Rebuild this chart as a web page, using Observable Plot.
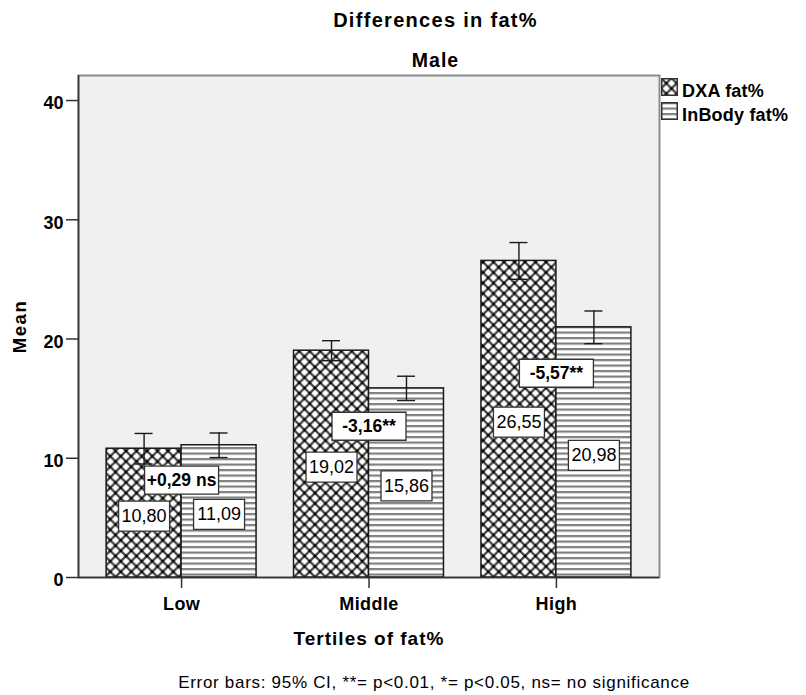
<!DOCTYPE html>
<html>
<head>
<meta charset="utf-8">
<script src="https://cdn.jsdelivr.net/npm/d3@7"></script>
<script src="https://cdn.jsdelivr.net/npm/@observablehq/plot@0.6"></script>
<style>
  html, body { margin: 0; padding: 0; background: #fff; }
  #page { position: relative; width: 806px; height: 695px; overflow: hidden;
          font-family: "Liberation Sans", Arial, sans-serif; color: #000; }
  .hdr { position: absolute; left: 65px; width: 741px; text-align: center; line-height: 1;
         font-weight: bold; white-space: nowrap; }
  #title { top: 10.2px; font-size: 20px; letter-spacing: 1.3px; }
  #subtitle { top: 50.6px; font-size: 19.5px; letter-spacing: 1px; }
  #chart { position: absolute; left: 0; top: 73px; }
  #caption { position: absolute; left: 62px; width: 744px; top: 673.7px; text-align: center;
             font-size: 17px; line-height: 1; letter-spacing: 0.7px; white-space: nowrap; }
  .legend-swatch { position: absolute; left: 661px; width: 17px; height: 18px; }
  .legend-text { position: absolute; left: 682px; font-size: 18px; font-weight: bold; line-height: 1;
                 letter-spacing: 0.2px; white-space: nowrap; }
  #chart g[aria-label="x-axis tick label"] text { letter-spacing: 0.4px; }
  #chart g[aria-label="x-axis label"] text { font-size: 19px; letter-spacing: 1px; }
  #chart g[aria-label="y-axis label"] text { font-size: 18.5px; letter-spacing: 1.6px; }
</style>
</head>
<body>
<div id="page">
  <svg width="0" height="0" style="position:absolute">
    <defs>
      <!-- cross-hatched lattice for DXA -->
      <pattern id="pat-dxa" patternUnits="userSpaceOnUse" width="10.5" height="10.5">
        <rect width="10.5" height="10.5" fill="#fff"/>
        <path d="M0,0L10.5,10.5M10.5,0L0,10.5" stroke="#444" stroke-width="2.3"/>
        <rect x="4" y="4" width="2.5" height="2.5" fill="#000"/>
        <rect x="-1.25" y="-1.25" width="2.5" height="2.5" fill="#000"/>
        <rect x="9.25" y="-1.25" width="2.5" height="2.5" fill="#000"/>
        <rect x="-1.25" y="9.25" width="2.5" height="2.5" fill="#000"/>
        <rect x="9.25" y="9.25" width="2.5" height="2.5" fill="#000"/>
      </pattern>
      <!-- horizontal stripes for InBody -->
      <pattern id="pat-inbody" patternUnits="userSpaceOnUse" width="10" height="5.5">
        <rect width="10" height="5.5" fill="#fff"/>
        <rect y="0" width="10" height="2.2" fill="#808080"/>
      </pattern>
    </defs>
  </svg>
  <div id="title" class="hdr">Differences in fat%</div>
  <div id="subtitle" class="hdr">Male</div>
  <div id="chart"></div>
  <div id="legend"></div>
  <div id="caption"></div>
</div>
<script>
// Mean fat% per tertile, with 95% confidence limits
const tertiles = ["Low", "Middle", "High"];
const seriesNames = ["DXA fat%", "InBody fat%"];
const dxaMean = [10.80, 19.02, 26.55];
const inbodyMean = [11.09, 15.86, 20.98];
const dxaCiLow = [9.52, 18.18, 25.01];
const dxaCiHigh = [12.08, 19.86, 28.09];
const inbodyCiLow = [10.06, 14.84, 19.61];
const inbodyCiHigh = [12.12, 16.88, 22.35];
const significance = ["ns", "**", "**"];
const yTicks = [0, 10, 20, 30, 40];
const captionText = "Error bars: 95% CI, **= p<0.01, *= p<0.05, ns= no significance";

const locale = d3.formatLocale({decimal: ",", thousands: ".", grouping: [3], currency: ["", ""], minus: "-"});
const fmtValue = locale.format(".2f");
const fmtDiff = locale.format("+.2f");

const BAR_W = 0.4;   // bar width, in category units
const CAP = 0.048;   // half-width of the error-bar caps

const rows = tertiles.flatMap((t, i) => [
  {tertile: t, i, series: seriesNames[0], side: -1, mean: dxaMean[i], lo: dxaCiLow[i], hi: dxaCiHigh[i]},
  {tertile: t, i, series: seriesNames[1], side: 1, mean: inbodyMean[i], lo: inbodyCiLow[i], hi: inbodyCiHigh[i]}
]);
const xc = d => d.i + d.side * BAR_W / 2;

// InBody minus DXA, placed between the lower bar top and the taller bar's value box
const diffs = tertiles.map((t, i) => {
  const diff = Math.round((inbodyMean[i] - dxaMean[i]) * 100) / 100;
  const lower = Math.min(dxaMean[i], inbodyMean[i]);
  const upper = Math.max(dxaMean[i], inbodyMean[i]);
  return {
    i,
    y: (lower + upper / 2) / 2,
    label: fmtDiff(diff) + (significance[i] === "ns" ? " ns" : significance[i])
  };
});

// fixed-size rectangle used as a label box
const box = (w, h) => ({
  draw(ctx) {
    ctx.moveTo(-w / 2, -h / 2);
    ctx.lineTo(w / 2, -h / 2);
    ctx.lineTo(w / 2, h / 2);
    ctx.lineTo(-w / 2, h / 2);
    ctx.closePath();
  }
});

const chart = Plot.plot({
  width: 806,
  height: 582,
  marginLeft: 78,
  marginRight: 147,
  marginTop: 2,
  marginBottom: 78,
  style: {fontFamily: '"Liberation Sans", Arial, sans-serif', fontSize: "18px", color: "#000", background: "transparent", overflow: "visible"},
  x: {domain: [-0.55, 2.55], axis: null},
  y: {domain: [0, 42.1], axis: null},
  color: {domain: seriesNames, range: ["url(#pat-dxa)", "url(#pat-inbody)"]},
  marks: [
    Plot.frame({fill: "#f0f0f0", stroke: "#8c8c8c", strokeWidth: 2}),
    Plot.rect(rows, {
      x1: d => d.i + Math.min(0, d.side) * BAR_W,
      x2: d => d.i + Math.max(0, d.side) * BAR_W,
      y1: 0, y2: "mean",
      fill: "series", stroke: "#1a1a1a", strokeWidth: 1.5
    }),
    // 95% CI error bars
    Plot.ruleX(rows, {x: xc, y1: "lo", y2: "hi", stroke: "#1a1a1a", strokeWidth: 1.4}),
    Plot.ruleY(rows, {y: "hi", x1: d => xc(d) - CAP, x2: d => xc(d) + CAP, stroke: "#1a1a1a", strokeWidth: 1.4}),
    Plot.ruleY(rows, {y: "lo", x1: d => xc(d) - CAP, x2: d => xc(d) + CAP, stroke: "#1a1a1a", strokeWidth: 1.4}),
    // axis lines
    Plot.ruleY([0], {stroke: "#333", strokeWidth: 1.6}),
    Plot.ruleX([-0.55], {stroke: "#333", strokeWidth: 1.6}),
    // mean value boxes
    Plot.dot(rows, {x: xc, y: d => d.mean / 2, dy: 3, symbol: box(51, 30), r: 1, fill: "#fff", stroke: "#333", strokeWidth: 1.3}),
    Plot.text(rows, {x: xc, y: d => d.mean / 2, dy: 3, text: d => fmtValue(d.mean),
      fontFamily: '"Liberation Sans", Arial, sans-serif', fontSize: 18, fill: "#000"}),
    // difference boxes
    Plot.dot(diffs, {x: "i", y: "y", symbol: box(74, 28), r: 1, fill: "#fff", stroke: "#333", strokeWidth: 1.3}),
    Plot.text(diffs, {x: "i", y: "y", text: "label", fontSize: 17.5, fontWeight: "bold", fill: "#000"}),
    // axes
    Plot.axisY(yTicks, {tickSize: 12, fill: "none", stroke: "#333", strokeWidth: 1.5, label: null}),
    Plot.axisY(yTicks, {tickSize: 12, tickPadding: 3, stroke: "none", dy: 3, fontSize: 18, fontWeight: "bold",
      label: "Mean", labelAnchor: "center", labelOffset: 66, labelArrow: "none"}),
    Plot.axisX([0, 1, 2], {tickFormat: i => tertiles[i], tickSize: 11, tickPadding: 9, stroke: "#333", strokeWidth: 1.5,
      fontSize: 18, fontWeight: "bold", label: "Tertiles of fat%", labelAnchor: "center", labelOffset: 67, labelArrow: "none"})
  ]
});
document.getElementById("chart").append(chart);

// legend
const legend = document.getElementById("legend");
seriesNames.forEach((name, k) => {
  const top = 78 + k * 24;
  const sw = d3.create("svg").attr("class", "legend-swatch").style("top", `${top}px`)
    .attr("width", 17).attr("height", 18);
  sw.append("rect").attr("x", 0.75).attr("y", 0.75).attr("width", 15.5).attr("height", 16.5)
    .attr("fill", `url(#${k === 0 ? "pat-dxa" : "pat-inbody"})`).attr("stroke", "#333").attr("stroke-width", 1.5);
  legend.append(sw.node());
  const label = document.createElement("div");
  label.className = "legend-text";
  label.style.top = `${top + 19 - 15.2}px`;
  label.textContent = name;
  legend.append(label);
});

document.getElementById("caption").textContent = captionText;
</script>
</body>
</html>
